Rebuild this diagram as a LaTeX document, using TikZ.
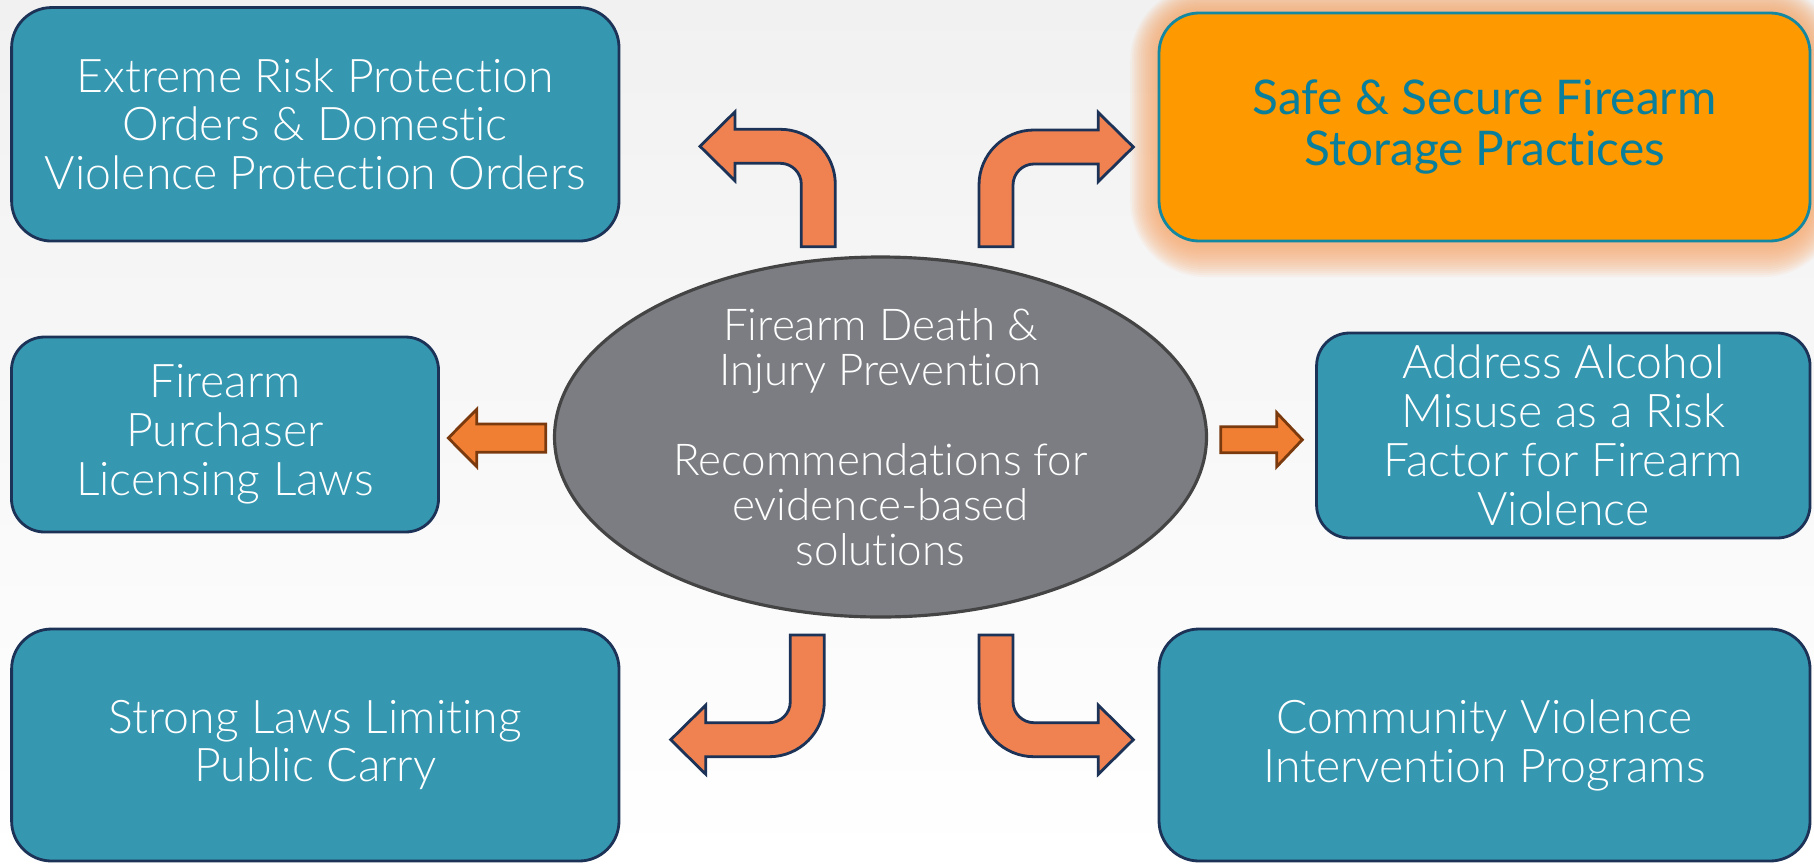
\documentclass[tikz,border=0pt]{standalone}
\usepackage{fontspec}
\setmainfont{Lato}[UprightFont={* Light},Ligatures={NoCommon,NoRare,NoContextual}]
\newfontfamily\latoregular{Lato}[Ligatures={NoCommon,NoRare,NoContextual}]
\usepackage{xcolor}
\usetikzlibrary{calc,positioning,shapes.geometric}

\definecolor{tealbox}{HTML}{3597B0}
\definecolor{navyline}{HTML}{1C3257}
\definecolor{safeorange}{HTML}{FF9900}
\definecolor{safeline}{HTML}{1487A1}
\definecolor{safetext}{HTML}{0A7F9C}
\definecolor{glow}{HTML}{F6A86A}
\definecolor{hubgray}{HTML}{7B7D82}
\definecolor{hubline}{HTML}{444444}
\definecolor{bentfill}{HTML}{EF8250}
\definecolor{flatfill}{HTML}{F07F33}
\definecolor{flatline}{HTML}{7A3A0E}
\definecolor{bgtop}{HTML}{F1F1F1}

% bent block arrow: origin (outer foot of the shaft), xscale, yscale, rise, run
\newcommand{\bentarrow}[5]{%
  \begin{scope}[shift={#1},xscale=#2,yscale=#3]
    \draw[bent] (0.34,0) -- (0.34,#4-0.55) arc[start angle=180,end angle=90,radius=0.21]
      -- (#5-0.35,#4-0.34) -- (#5-0.35,#4-0.515) -- (#5,#4-0.17)
      -- (#5-0.35,#4+0.175) -- (#5-0.35,#4)
      -- (0.55,#4) arc[start angle=90,end angle=180,radius=0.55] -- (0,0) -- cycle;
  \end{scope}}

\begin{document}
\begin{tikzpicture}[
    box/.style={draw=navyline,line width=0.8pt,fill=tealbox,rounded corners=0.4cm,
      align=center,text=white,inner sep=0pt,font=\fontsize{13.2}{13.9}\selectfont},
    smallbox/.style={box,rounded corners=0.33cm},
    safebox/.style={box,draw=safeline,fill=safeorange,text=safetext,
      font=\latoregular\fontsize{13.6}{14.3}\selectfont},
    hub/.style={ellipse,draw=hubline,line width=0.9pt,fill=hubgray,inner sep=0pt,
      minimum width=6.52cm,minimum height=3.6cm},
    hubtext/.style={align=center,text=white,font=\fontsize{12.5}{12.8}\selectfont},
    bent/.style={draw=navyline,line width=0.8pt,fill=bentfill,line join=miter},
    flat/.style={draw=flatline,line width=0.8pt,fill=flatfill,line join=miter}
]

% --- Canvas ---
\useasboundingbox (0,0) rectangle (18.14,-8.63);
\shade[top color=bgtop,bottom color=white] (0,0) rectangle (18.14,-8.63);

% --- Glow behind the highlighted box ---
\foreach \g in {1,...,16}
  \fill[glow,opacity=0.08,rounded corners=0.4cm+\g*0.022cm]
    (11.59-\g*0.018,-2.45-\g*0.02) rectangle (18.10+\g*0.018,-0.11+\g*0.016);

% --- Hub ---
\node[hub] (hub) at (8.805,-4.37) {};
\node[hubtext] (hubtxt) at (hub.center) {Firearm Death \&\\Injury Prevention\\[12.8pt]
  Recommendations for\\evidence-based\\solutions};

% --- Recommendations ---
\node[box,minimum width=6.074cm,minimum height=2.335cm] (erpo) at (3.153,-1.243)
  {Extreme Risk Protection\\Orders \& Domestic\\Violence Protection Orders};
\node[safebox,minimum width=6.51cm,minimum height=2.28cm] (storage) at (14.845,-1.27)
  {Safe \& Secure Firearm\\Storage Practices};
\node[smallbox,minimum width=4.27cm,minimum height=1.95cm] (licensing) at (2.25,-4.345)
  {Firearm\\Purchaser\\Licensing Laws};
\node[smallbox,minimum width=4.935cm,minimum height=2.05cm] (alcohol) at (15.633,-4.355)
  {Address Alcohol\\Misuse as a Risk\\Factor for Firearm\\Violence};
\node[box,minimum width=6.074cm,minimum height=2.32cm] (carry) at (3.153,-7.45)
  {Strong Laws Limiting\\Public Carry};
\node[box,minimum width=6.51cm,minimum height=2.32cm] (cvi) at (14.845,-7.45)
  {Community Violence\\Intervention Programs};

% --- Bent arrows (feet of the shafts) ---
\coordinate (footErpo)    at (8.353,-2.467);
\coordinate (footStorage) at (9.79,-2.467);
\coordinate (footCarry)   at (8.243,-6.35);
\coordinate (footCvi)     at (9.79,-6.35);

\bentarrow{(footErpo)}{-1}{1}{1.174}{1.353}
\bentarrow{(footStorage)}{1}{1}{1.167}{1.543}
\bentarrow{(footCarry)}{-1}{-1}{1.217}{1.536}
\bentarrow{(footCvi)}{1}{-1}{1.217}{1.543}

% --- Straight arrows ---
\draw[flat] (5.457,-4.24) -- (4.767,-4.24) -- (4.767,-4.093) -- (4.483,-4.38)
  -- (4.767,-4.667) -- (4.767,-4.523) -- (5.457,-4.523) -- cycle;
\draw[flat] (12.207,-4.267) -- (12.767,-4.267) -- (12.767,-4.127) -- (13.023,-4.397)
  -- (12.767,-4.667) -- (12.767,-4.527) -- (12.207,-4.527) -- cycle;
\end{tikzpicture}
\end{document}
